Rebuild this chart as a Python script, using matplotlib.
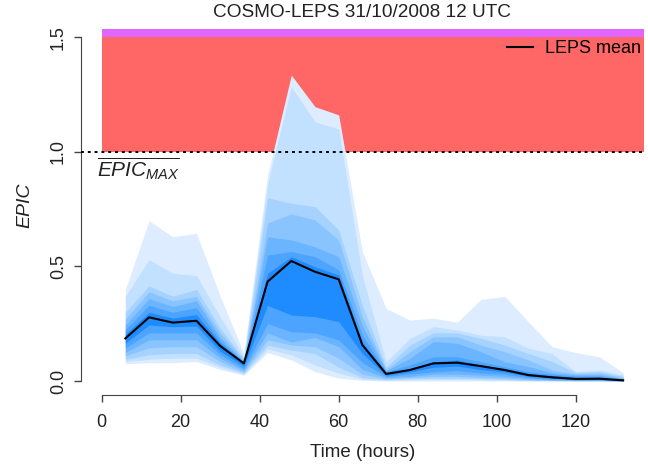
#EPIC forecast plume from the COSMO-LEPS run, R-style layout

import numpy as np
import matplotlib
matplotlib.use('Agg')
import matplotlib.pyplot as plt

plt.rcParams['font.family'] = ['Liberation Sans', 'DejaVu Sans']
plt.rcParams['mathtext.fontset'] = 'custom'
plt.rcParams['mathtext.it'] = 'Liberation Sans:italic'
plt.rcParams['mathtext.rm'] = 'Liberation Sans'

#forecast steps (hours)
hours = [6, 12, 18, 24, 30, 36, 42, 48, 54, 60, 66, 72, 78, 84, 90, 96, 102, 108, 114, 120, 126, 132]

#ensemble mean
leps_mean = [0.186, 0.278, 0.255, 0.263, 0.153, 0.077, 0.434, 0.524, 0.477, 0.444, 0.157,
             0.031, 0.048, 0.077, 0.080, 0.065, 0.048, 0.026, 0.016, 0.009, 0.010, 0.003]

#upper edges of the plume, outer to inner
up1 = [0.40, 0.70, 0.63, 0.645, 0.37, 0.12, 0.90, 1.336, 1.198, 1.162, 0.565,
       0.317, 0.266, 0.274, 0.257, 0.356, 0.370, 0.259, 0.150, 0.124, 0.106, 0.036]
up2 = [0.37, 0.53, 0.47, 0.46, 0.28, 0.105, 0.86, 1.285, 1.132, 1.10, 0.46,
       0.084, 0.186, 0.237, 0.223, 0.200, 0.193, 0.143, 0.120, 0.041, 0.048, 0.027]
up3 = [0.30, 0.415, 0.37, 0.40, 0.23, 0.097, 0.80, 0.776, 0.761, 0.659, 0.33,
       0.060, 0.157, 0.211, 0.210, 0.186, 0.157, 0.120, 0.085, 0.037, 0.041, 0.020]
up4 = [0.27, 0.39, 0.35, 0.37, 0.21, 0.09, 0.69, 0.73, 0.703, 0.616, 0.28,
       0.050, 0.128, 0.193, 0.193, 0.157, 0.128, 0.092, 0.048, 0.031, 0.034, 0.015]
up5 = [0.245, 0.36, 0.325, 0.35, 0.19, 0.085, 0.63, 0.616, 0.586, 0.543, 0.24,
       0.045, 0.099, 0.172, 0.165, 0.128, 0.084, 0.063, 0.037, 0.027, 0.027, 0.011]
up6 = [0.225, 0.33, 0.30, 0.32, 0.175, 0.082, 0.55, 0.565, 0.543, 0.485, 0.20,
       0.040, 0.070, 0.106, 0.106, 0.084, 0.063, 0.041, 0.030, 0.022, 0.022, 0.008]
up7 = [0.205, 0.30, 0.275, 0.29, 0.165, 0.08, 0.47, 0.543, 0.499, 0.463, 0.17,
       0.035, 0.055, 0.084, 0.092, 0.070, 0.055, 0.034, 0.024, 0.016, 0.016, 0.006]

#lower edges of the plume, outer to inner
lo1 = [0.075, 0.08, 0.08, 0.085, 0.05, 0.025, 0.124, 0.092, 0.041, 0.012, 0.003,
       0.0, 0.0, 0.0, 0.0, 0.0, 0.0, 0.0, 0.0, 0.0, 0.0, 0.0]
lo2 = [0.085, 0.095, 0.10, 0.10, 0.06, 0.03, 0.14, 0.114, 0.07, 0.034, 0.008,
       0.003, 0.005, 0.006, 0.006, 0.005, 0.003, 0.001, 0.001, 0.0, 0.0, 0.0]
lo3 = [0.095, 0.115, 0.12, 0.12, 0.07, 0.035, 0.157, 0.135, 0.12, 0.06, 0.015,
       0.006, 0.010, 0.012, 0.012, 0.010, 0.007, 0.003, 0.002, 0.001, 0.001, 0.0]
lo4 = [0.11, 0.145, 0.15, 0.15, 0.085, 0.04, 0.18, 0.157, 0.15, 0.099, 0.03,
       0.010, 0.015, 0.020, 0.020, 0.015, 0.012, 0.006, 0.003, 0.002, 0.002, 0.0]
lo5 = [0.125, 0.18, 0.18, 0.18, 0.10, 0.047, 0.21, 0.17, 0.19, 0.15, 0.05,
       0.015, 0.020, 0.030, 0.030, 0.025, 0.020, 0.010, 0.005, 0.003, 0.003, 0.0]
lo6 = [0.145, 0.21, 0.21, 0.21, 0.115, 0.055, 0.25, 0.215, 0.21, 0.179, 0.08,
       0.020, 0.030, 0.040, 0.045, 0.035, 0.030, 0.015, 0.008, 0.005, 0.005, 0.001]
lo7 = [0.165, 0.245, 0.237, 0.24, 0.13, 0.065, 0.33, 0.288, 0.281, 0.259, 0.12,
       0.025, 0.040, 0.060, 0.065, 0.050, 0.040, 0.020, 0.012, 0.007, 0.007, 0.002]

epic_max = 1.0
extreme = 1.5
plot_top = 1.535

band_cols = ['#DDEDFF', '#C2E0FF', '#A6D2FF', '#8AC4FF', '#6BB4FF', '#4CA4FF', '#1E8CFF']

#figure, axes placed like the R plot region
fig = plt.figure(figsize=(6.48, 4.66), dpi=100)
ax = fig.add_axes([80.8/648, 71/466, 563.2/648, 379.5/466])
ax.set_xlim(-5.28, 137.28)
ax.set_ylim(-0.0611, 1.596)

#warning areas
ax.fill_between([0, 137.28], epic_max, extreme, color='#FF6666', lw=0, zorder=1)
ax.fill_between([0, 137.28], extreme, plot_top, color='#E066FF', lw=0, zorder=1)

#plume
uppers = [up1, up2, up3, up4, up5, up6, up7]
lowers = [lo1, lo2, lo3, lo4, lo5, lo6, lo7]
for up, lo, c in zip(uppers, lowers, band_cols):
    ax.fill_between(hours, lo, up, color=c, lw=0, zorder=2)

ax.axhline(epic_max, color='black', lw=1.4, linestyle=(0, (1.5, 2)), zorder=3)
ax.plot(hours, leps_mean, color='black', lw=1.5, label='LEPS mean', zorder=4)

ax.text(-1.3, 0.985, r'$\overline{EPIC_{MAX}}$', ha='left', va='top', fontsize=15, color='#222222')

#axes in R style
for s in ['top', 'right']:
    ax.spines[s].set_visible(False)
ax.spines['left'].set_bounds(0, 1.5)
ax.spines['bottom'].set_bounds(0, 120)
for s in ['left', 'bottom']:
    ax.spines[s].set_color('#444444')
ax.set_xticks([0, 20, 40, 60, 80, 100, 120])
ax.set_yticks([0.0, 0.5, 1.0, 1.5])
ax.set_yticklabels(['0.0', '0.5', '1.0', '1.5'])
ax.tick_params(axis='both', length=5, width=1, color='#444444', labelsize=13, labelcolor='#222222')
ax.tick_params(axis='x', pad=9)
ax.tick_params(axis='y', pad=5)
for lbl in ax.get_yticklabels():
    lbl.set_rotation(90)
    lbl.set_va('center')

ax.set_xlabel('Time (hours)', fontsize=13.5, color='#222222', va='center')
ax.xaxis.set_label_coords(0.5, -0.152)
ax.set_ylabel('EPIC', fontsize=14, style='italic', color='#222222', va='center')
ax.yaxis.set_label_coords(-0.099, 0.5)

ax.text(0.5, 1.009, 'COSMO-LEPS 31/10/2008 12 UTC', transform=ax.transAxes,
        ha='center', va='center', fontsize=13.7, color='#222222')

ax.legend(loc='upper right', bbox_to_anchor=(0.995, 0.935), frameon=False, fontsize=13,
          handlelength=1.4, handletextpad=0.7, borderaxespad=0, borderpad=0)

fig.savefig('out.png', dpi=100)
